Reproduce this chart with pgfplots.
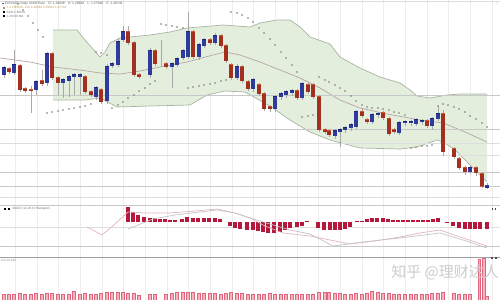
\documentclass[border=0pt]{standalone}
\usepackage{pgfplots}
\pgfplotsset{compat=1.18}
\usepgfplotslibrary{fillbetween}
\usepackage{pgfplotstable}
\usepackage{fontspec}
\setmainfont{Liberation Sans}
\newfontfamily\cjk{Noto Sans CJK SC}
\definecolor{bbfill}{HTML}{E0EDD8}
\definecolor{bbline}{HTML}{A9B3A2}
\definecolor{midline}{HTML}{B8A4A8}
\definecolor{upfill}{HTML}{2E3A9C}
\definecolor{upbd}{HTML}{1F2878}
\definecolor{dnfill}{HTML}{A3301E}
\definecolor{dnbd}{HTML}{C85834}
\definecolor{wick}{HTML}{A8A8A8}
\definecolor{sar}{HTML}{8C8C8C}
\definecolor{macdbar}{HTML}{B5173D}
\definecolor{volfill}{HTML}{F4B4C0}
\definecolor{volbd}{HTML}{E0647C}
\definecolor{hmed}{HTML}{C8C8C8}
\definecolor{hlight}{HTML}{DEDEDE}
\definecolor{macdA}{HTML}{E0B4BE}
\definecolor{macdB}{HTML}{C4C4C8}
\definecolor{hdrtan}{HTML}{C09050}

% candles in chart rows (pixel y, smaller = higher price)
\pgfplotstableread{
x top bot hi lo
4 68 75 66 78
14 65 73 50 75
36 82 90 80 95
47 54 83 52 86
63 80 83 78 98
69 77 81 75 97
74 75 77 73 95
80 75 77 73 95
96 88 97 86 100
107 67 101 64 104
112 64 66 62 68
118 42 65 38 67
123 32 40 26 42
150 51 75 48 78
172 64 67 62 88
177 59 65 57 67
183 51 58 49 60
188 32 57 12 59
199 45 57 43 60
204 40 46 38 48
215 36 43 33 45
237 67 78 64 80
253 80 89 78 92
275 97 109 95 112
281 94 97 92 100
286 92 95 90 98
292 91 93 89 96
302 84 98 82 100
335 131 136 129 139
340 130 132 128 147
345 128 130 126 133
351 125 128 123 131
356 112 127 110 129
372 115 122 113 124
378 114 115 112 118
399 123 133 121 135
405 122 123 120 126
411 122 123 120 126
416 120 124 118 126
422 121 122 119 125
432 119 126 117 130
438 114 119 106 121
470 168 172 166 174
487 185 187 183 189
}\upc
\pgfplotstableread{
x top bot hi lo
9 69 72 67 74
20 66 90 64 92
25 89 91 87 93
31 90 91 86 113
42 81 84 70 86
52 54 78 52 80
58 78 83 76 95
85 77 92 75 94
91 92 95 90 97
101 90 102 88 104
128 32 43 26 45
134 43 75 41 77
139 75 77 73 79
155 51 64 49 66
166 64 67 62 69
193 32 57 30 59
210 40 43 38 45
221 36 46 34 48
226 46 61 44 63
231 65 78 63 80
242 67 81 65 83
248 82 89 80 91
259 85 94 83 96
264 94 109 92 111
270 107 109 105 112
297 91 98 89 100
308 85 92 83 94
313 85 97 83 99
319 97 130 95 132
325 130 132 128 134
329 131 135 129 137
362 112 116 108 118
367 120 122 118 124
383 113 118 111 120
389 119 134 117 136
394 130 132 128 134
427 121 126 119 128
443 114 152 110 156
454 149 157 147 159
459 159 168 157 170
465 168 172 166 175
476 168 173 166 176
482 174 186 172 188
}\dnc
\pgfplotstableread{
x top
4 294
9 294
14 294
20 293
25 294
31 294
36 293
42 294
47 293
52 293
58 294
63 294
69 294
74 291
80 294
85 293
91 294
96 294
101 293
107 292
112 292
118 292
123 292
128 293
134 293
139 295
150 294
155 294
166 294
172 293
177 292
183 292
188 292
193 292
199 293
204 293
210 293
215 293
221 294
226 293
231 292
237 293
242 293
248 294
253 294
259 294
264 294
270 293
275 294
281 294
286 294
292 294
297 294
302 294
308 294
313 294
319 292
325 292
329 292
335 293
340 293
345 294
351 294
356 293
362 294
367 293
372 291
378 292
383 293
389 293
394 294
399 294
405 294
411 294
416 294
422 294
427 294
432 293
438 293
443 292
454 293
459 294
465 294
470 294
487 296
}\vol
\pgfplotstableread{
x top
479.5 259
484 258
}\volspike
\pgfplotstableread{
x v
128 207
133 212
138 215
144 217
150 218
155 218
160 219
165 219
170 220
175 220
182 219
187 217
193 218
198 218
204 218
209 218
215 218
220 219
230 226
235 228
240 229
247 230
253 230
258 231
263 232
268 233
274 233
280 232
285 230
290 228
297 227
302 226
307 221
318 228
324 230
330 230
335 230
340 230
345 229
350 227
357 221
362 221
367 219
372 218
377 218
383 218
388 219
393 220
398 220
403 220
408 220
413 220
418 220
423 220
428 220
433 219
438 218
447 223
453 226
459 228
465 229
470 229
475 229
480 229
487 229
}\macd

\begin{document}
\begin{tikzpicture}
\begin{axis}[
  at={(0,0)}, anchor=south west,
  scale only axis, width=500pt, height=300pt,
  xmin=0, xmax=500, ymin=0, ymax=300, y dir=reverse,
  axis line style={draw=none}, tick style={draw=none},
  xtick={15,37,58,80,102,123,145,167,188,210,232,253,275,297,318,340,362,383,405,427,448,470,492},
  ytick=\empty, xticklabels={},
  xmajorgrids, major grid style={draw=black!7, line width=0.5pt},
  unbounded coords=jump, clip=true,
]
% Bollinger band
\addplot[name path=bbup, draw=none] coordinates {(53,30)(77,30)(85,40)(100,57)(105,52)(110,43)(120,38)(150,35)(170,32)(187,28)(223,25)(250,27)(260,23)(277,20)(290,20)(300,27)(310,37)(330,44)(340,57)(360,68)(380,77)(400,83)(410,90)(417,96)(430,98)(447,95)(460,94)(487,94)};
\addplot[name path=bblo, draw=none] coordinates {(53,100)(85,100)(100,98)(117,107)(150,106)(190,105)(207,95)(225,91)(245,92)(270,106)(290,120)(310,132)(330,140)(360,148)(400,149)(417,147)(437,140)(445,143)(455,150)(465,160)(475,170)(487,182)};
\addplot[fill=bbfill, fill opacity=0.9] fill between[of=bbup and bblo];
\addplot[draw=bbline, line width=0.7pt] coordinates {(53,30)(77,30)(85,40)(100,57)(105,52)(110,43)(120,38)(150,35)(170,32)(187,28)(223,25)(250,27)(260,23)(277,20)(290,20)(300,27)(310,37)(330,44)(340,57)(360,68)(380,77)(400,83)(410,90)(417,96)(430,98)(447,95)(460,94)(487,94)};
\addplot[draw=bbline, line width=0.7pt] coordinates {(53,100)(85,100)(100,98)(117,107)(150,106)(190,105)(207,95)(225,91)(245,92)(270,106)(290,120)(310,132)(330,140)(360,148)(400,149)(417,147)(437,140)(445,143)(455,150)(465,160)(475,170)(487,182)};
\addplot[draw=midline, line width=0.7pt] coordinates {(0,58)(30,62)(53,67)(80,70)(100,73)(120,74)(140,71)(160,67)(187,62)(213,55)(225,52)(240,55)(260,62)(280,70)(300,78)(320,88)(340,100)(360,108)(387,114)(420,120)(443,123)(465,132)(487,142)};
% horizontal rules
\addplot[draw=hlight, line width=0.6pt] coordinates {(0,1)(500,1) (500,nan) (0,143)(500,143) (500,nan) (0,155)(500,155) (500,nan) (0,197)(500,197) (500,nan) (0,227)(500,227)};
\addplot[draw=hmed, line width=0.7pt] coordinates {(0,95)(500,95) (500,nan) (0,129)(500,129) (500,nan) (0,172)(500,172) (500,nan) (0,186)(500,186) (500,nan) (0,205)(500,205) (500,nan) (0,246)(500,246)};
\addplot[draw=black!38, line width=0.9pt] coordinates {(0,257)(500,257)};
% wicks
\addplot[draw=wick, line width=0.5pt, quiver={u=0, v=\thisrow{lo}-\thisrow{hi}}] table[x=x, y=hi] {\upc};
\addplot[draw=wick, line width=0.5pt, quiver={u=0, v=\thisrow{lo}-\thisrow{hi}}] table[x=x, y=hi] {\dnc};
\addplot[draw=wick, line width=0.5pt] coordinates {(161,40)(161,67)};
% candle bodies
\addplot[draw=upbd, line width=4.4pt, quiver={u=0, v=\thisrow{bot}-\thisrow{top}+1}] table[x=x, y expr=\thisrow{top}-0.5] {\upc};
\addplot[draw=upfill, line width=3.4pt, quiver={u=0, v=\thisrow{bot}-\thisrow{top}}] table[x=x, y=top] {\upc};
\addplot[draw=dnbd, line width=4.4pt, quiver={u=0, v=\thisrow{bot}-\thisrow{top}+1}] table[x=x, y expr=\thisrow{top}-0.5] {\dnc};
\addplot[draw=dnfill, line width=3.4pt, quiver={u=0, v=\thisrow{bot}-\thisrow{top}}] table[x=x, y=top] {\dnc};
% parabolic SAR
\addplot[only marks, mark=*, mark size=0.65pt, color=sar] coordinates {
(18,4)(23,10)(28,16)(33,23)(38,30)(43,37)
(47,113)(52,112)(58,111)(63,110)(69,109)(74,108)(80,107)(85,106)(91,104)
(96,52)(101,53)(107,55)
(112,108)(118,105)(123,102)(128,98)(134,95)(139,91)(145,88)(150,84)(155,81)
(161,24)(166,25)(172,26)(177,27)(183,28)
(188,88)(193,87)(199,86)(204,85)(210,84)(215,83)(221,81)(226,80)
(231,12)(237,13)(242,15)(248,18)(253,22)(259,28)(264,33)(270,39)(275,45)(281,52)(286,58)(292,65)(297,72)
(302,117)(308,116)(313,115)
(319,77)(325,80)(329,82)(335,85)(340,88)(345,91)(351,96)(356,101)(362,105)(367,107)(372,108)(378,108)(383,109)(389,110)(394,112)(399,113)(405,115)
(411,148)(416,147)(422,146)(427,146)(432,145)
(438,106)(443,104)(448,105)(454,107)(459,109)(465,112)(470,116)(476,119)(482,123)(487,127)};
% MACD
\addplot[draw=macdbar, line width=3.6pt, quiver={u=0, v=\thisrow{v}-222}] table[x=x, y expr=222] {\macd};
\addplot[draw=macdA, line width=0.7pt] coordinates {(87,227)(102,235)(115,224)(128,212)(145,213)(170,213)(195,211)(217,209)(235,213)(250,218)(265,226)(283,233)(310,236)(330,240)(350,244)(375,241)(400,237)(420,233)(440,230)(463,238)(487,246)};
\addplot[draw=macdB, line width=0.7pt] coordinates {(128,229)(143,223)(153,219)(175,215)(200,212)(217,210)(235,213)(250,218)(270,224)(290,230)(310,234)(333,246)(355,243)(380,240)(400,238)(440,233)(463,240)(487,248)};
% volume
\addplot[draw=volbd, line width=3.4pt, quiver={u=0, v=\thisrow{top}-300}] table[x=x, y expr=300] {\vol};
\addplot[draw=volfill, line width=2.0pt, quiver={u=0, v=\thisrow{top}-299.2}] table[x=x, y expr=300] {\vol};
\addplot[draw=volbd, line width=3.2pt, quiver={u=0, v=\thisrow{top}-300}] table[x=x, y expr=300] {\volspike};
\addplot[draw=volfill, line width=1.8pt, quiver={u=0, v=\thisrow{top}-299}] table[x=x, y expr=300] {\volspike};
% header texts
\node[anchor=west, inner sep=0, font=\fontsize{3.3}{4}\selectfont, text=black!65] at (axis cs:2,3.6) {\rule{1.8pt}{1.8pt}\ EUR/USD Daily 30:00 Euro\quad O: 1.29948\quad H: 1.29948\quad L: 1.27948\quad C: 1.28748};
\node[anchor=west, inner sep=0, font=\fontsize{3.1}{4}\selectfont, text=hdrtan] at (axis cs:3,7.8) {\textcolor{hdrtan}{\rule{1.8pt}{1.8pt}}\ \ 1.2.3 BB(20, 2.0)\ 1.30461\ 1.29812\ 1.27744};
\node[anchor=west, inner sep=0, font=\fontsize{3.1}{4}\selectfont, text=black!55] at (axis cs:3,12) {\textcolor{black}{\rule{1.8pt}{1.8pt}}\ \ SAR 1.30516};
\node[anchor=west, inner sep=0, font=\fontsize{3.1}{4}\selectfont, text=black!55] at (axis cs:3,16.2) {\textcolor{black}{\rule{1.8pt}{1.8pt}}\ \ 1.29748 MA};
\node[anchor=west, inner sep=0, font=\fontsize{3.1}{4}\selectfont, text=black!55] at (axis cs:4,209) {\textcolor{black}{\rule{2pt}{2pt}}\ \ \textcolor{black}{\rule{2pt}{2pt}}\ \ \ MACD (12,26,9) Histogram};
\node[anchor=west, inner sep=0, font=\fontsize{3.1}{4}\selectfont, text=black!50] at (axis cs:1,260) {Vol 12 345};
\node[inner sep=0, font=\fontsize{4}{4}\selectfont, text=black!70] at (axis cs:497,4) {.\,\raisebox{0.6pt}{,}};
\node[inner sep=0, font=\fontsize{4}{4}\selectfont, text=black!70] at (axis cs:494,209) {\rule{1.4pt}{1.4pt}\ \rule{1.4pt}{1.4pt}};
\node[inner sep=0, font=\fontsize{4}{4}\selectfont, text=black!70] at (axis cs:494,258) {\rule{1.4pt}{1.4pt}\ \ \rule{1.4pt}{1.4pt}};
% watermark
\node[anchor=east, inner sep=0, font=\cjk\fontsize{15}{16}\selectfont, text=black!20] at (axis cs:499,272) {知乎 @理财达人};
\end{axis}
\pgfresetboundingbox
\useasboundingbox (0,0) rectangle (500pt,300pt);
\end{tikzpicture}
\end{document}
